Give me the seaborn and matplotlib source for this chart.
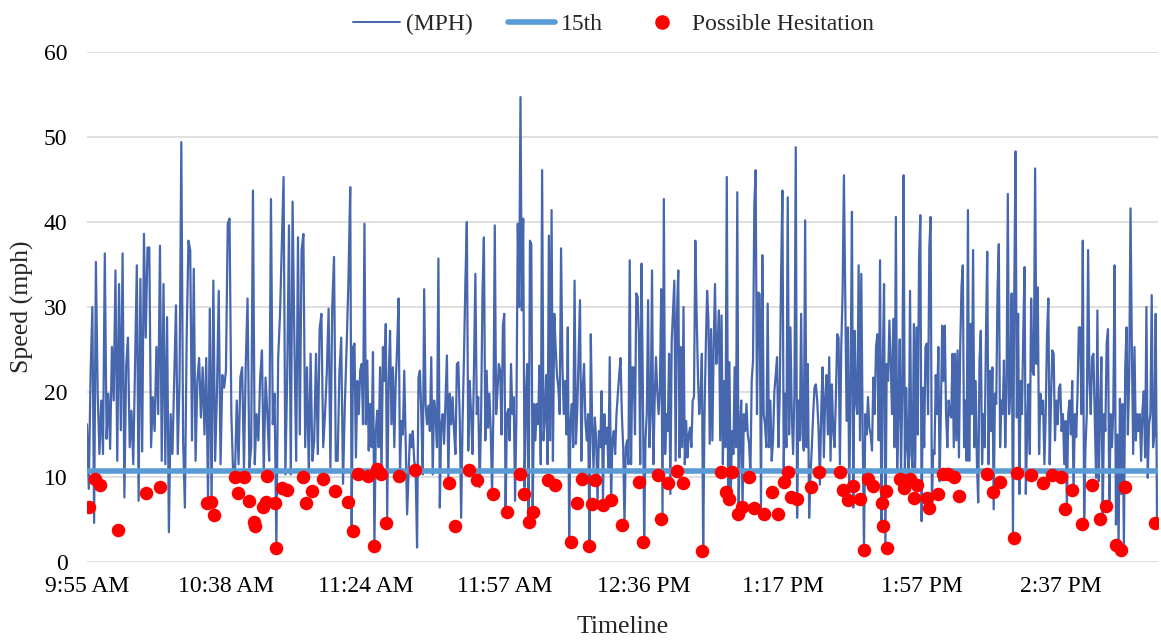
import numpy as np
import pandas as pd
import matplotlib
matplotlib.use("Agg")
import matplotlib.pyplot as plt
from matplotlib.lines import Line2D
import seaborn as sns

# Tick labels on the category axis (one label every fixed number of records)
time_labels = ["9:55 AM", "10:38 AM", "11:24 AM", "11:57 AM",
               "12:36 PM", "1:17 PM", "1:57 PM", "2:37 PM"]

# Speed readings (mph) in 8 consecutive windows
speed_w1 = [16.2, 8.6, 22, 30, 4.6, 35.3, 19.8, 12.7, 19, 12.7, 36.3, 14.5, 19.8, 13.3, 25.3, 19,
            34.3, 11.9, 32.7, 15.5, 36.3, 7.6, 23, 26.4, 13.5, 17.8, 11.5, 23.3, 34.9, 7.2, 33.3,
            13, 38.6, 26.4, 37, 37, 13.5, 19.4, 15.4, 25.3, 17.4, 37.2, 11.9, 32.7, 11.5, 28.8,
            3.5, 17.4, 12.7, 21.3, 30.2, 12.7, 21.3, 49.4, 14.3, 6.4, 26.4, 37.8, 36.7, 14.3,
            34.5, 11.9, 21.3, 24, 17, 22.9, 15, 24, 7.2, 29.8, 6.8, 33.1]
speed_w2 = [11.9, 19.8, 31.9, 11.5, 22, 20.5, 22.5, 39.8, 40.4, 17.4, 10.3, 10.3, 19, 11.5,
            21.7, 22.9, 11.1, 23.3, 31, 11.1, 13.5, 43.7, 11.5, 17.4, 14.3, 21.7, 24.9, 10.3,
            21.7, 17.4, 11.9, 42.7, 16.2, 19.8, 1.7, 24, 29, 37.4, 45.3, 10.3, 21.7, 39.6, 10.3,
            42.4, 26, 11.9, 38.2, 15, 36.7, 38.6, 13.5, 22.9, 10.3, 24.5, 11.9, 14.3, 24.5,
            12.7, 27.4, 29.2, 13.5, 17.4, 22.3, 29.8, 11.1, 30, 35.9, 11.9, 11.9, 22.3, 26.4,
            9.2, 18.4, 25.3, 33.1]
speed_w3 = [44.1, 3.7, 25.3, 25.7, 12.3, 21.3, 17.4, 22.5, 23.3, 16.2, 39.8, 16.2, 23.7, 13.1,
            18.6, 13.5, 24.7, 1.9, 15.4, 17.8, 13.5, 22.9, 10.3, 25.3, 21.3, 28, 5.2, 21.3, 27.2,
            16.2, 22.9, 13.5, 21.3, 25.3, 31, 10.7, 16.6, 15, 22.5, 13.9, 5.6, 10.3, 15, 13.5,
            15.4, 11.9, 10.7, 1.7, 21.7, 22.5, 17.4, 10.3, 32.1, 18.6, 16.2, 18.4, 15.4, 24.1,
            10.3, 19, 17.4, 13.5, 35.7, 6.4, 16.2, 17.4, 13.9, 19, 24.3, 9.9, 19.8, 16.2, 19.4,
            15.4, 12.7, 23.3, 23.5, 17, 5.2, 16.6, 24.1, 33.1, 40, 13.1, 21.3, 17.4, 12.7, 22.5,
            33.9, 17.4, 19.4, 8.8, 16.6, 31.6, 38.2]
speed_w4 = [14.3, 22.5, 15.8, 19.8, 15.4, 8, 18, 39.6, 17.4, 20.1, 23.3, 22.5, 15, 27.8, 29.2,
            6, 17.4, 18, 14.3, 23.3, 17.4, 19.4, 7.2, 17.4, 39.8, 30, 54.7, 29.6, 40.4, 8.8, 19.4,
            23.3, 4.4, 37.8, 37.4, 5.6, 18.6, 14.3, 18.6, 16.2, 23.1, 11.5, 46.1, 14.3, 17, 22,
            11.5, 38.4, 14.3, 41.4, 11.9, 29.2, 25.3, 22, 20.5, 17.4, 36.9, 23.3, 17.4, 21.3, 15,
            27.6, 2.5, 16.6, 18.6, 13.5, 33.1, 13.9, 18, 24.5, 30.8, 11.9, 20.5, 23.3, 16.6, 14.3,
            17.4, 2.1, 26.8, 16.2, 11.1, 17, 14.3, 6.8, 15.4, 13.5, 20.1, 7.2, 17.4, 13.9, 15.8,
            11.1, 24.1, 7.2, 14.3, 15.4, 12.7, 17.4, 19.8, 22]
speed_w5 = [24, 17.4, 13.5, 4.4, 13.5, 14.3, 11.5, 35.5, 11.5, 22.9, 22.9, 15, 31.6, 31.2, 26.8,
            11.5, 35.1, 20.5, 2.5, 14.3, 17.4, 30.8, 13.5, 17.4, 34.3, 11.5, 19, 24.1, 20.1, 17.4,
            20.5, 32.1, 5.2, 42.7, 12.7, 17.4, 15.4, 24.5, 8, 26, 29.6, 33.1, 11.9, 29.2, 34.3,
            12.3, 25.3, 13.5, 30, 11.5, 16.6, 12.3, 15, 15.8, 13.5, 19, 19.4, 37.8, 29.2, 22,
            17.4, 19.4, 24.5, 1.3, 17.4, 25.3, 31.9, 28.4, 13.9, 27.4, 14.3, 25.3, 32.7, 23.3,
            25.3, 29.6, 14.3, 29, 11.5, 21.3, 13.5, 45.3, 8.4, 23.5, 7.6, 15.4, 12.7, 22.9, 13.5,
            43.5, 5.6, 15.4, 19, 6.4, 17.4, 15.4, 18.6, 15, 13.9, 10.3, 21.3, 23.7, 42]
speed_w6 = [46.1, 17.4, 31.7, 31.5, 6.4, 36.1, 17.4, 16.2, 13.5, 30.4, 13.5, 19, 11.9, 14.3,
            20.1, 22, 24.1, 13.5, 19.8, 33.5, 43.7, 11.1, 19.8, 13.5, 42.9, 15, 27.6, 17.4, 12.7,
            19.8, 48.8, 5.2, 19, 14.3, 29.2, 15, 13.1, 40.2, 13.5, 23.3, 5.2, 10.3, 13.5, 17.4,
            20.5, 20.9, 19, 15.8, 9.1, 17.4, 22.9, 12.3, 19.4, 22, 15, 24.1, 11.9, 20.9, 15.4,
            13.5, 19.4, 26.8, 26.4, 11.5, 25.3, 31.6, 45.5, 31.6, 16.6, 27.6, 7.6, 21.3, 41.2,
            6.4, 27.2, 19, 17.4, 34.9, 14.3, 33.9, 15.4, 1.3, 17.4, 15, 19.4, 15.8, 15, 13.1,
            21.7, 17.4, 25.3, 26.8, 14.3, 35.5, 4.1, 22.9, 32.7, 1.7, 23.3, 21.3, 28.4]
speed_w7 = [23.3, 17.4, 28.6, 13.5, 40.6, 10.7, 18, 26.2, 10.7, 20.1, 45.5, 10.3, 20.5, 13.5,
            10.3, 31.9, 12.7, 11.1, 28, 11.1, 27.6, 15, 35.5, 40.8, 4.8, 20.5, 13.5, 25.3, 25.7,
            17.4, 37, 40.6, 6.4, 13.1, 12.7, 22, 17.4, 25.3, 9.5, 18, 27.8, 21.3, 27.8, 17.4,
            13.5, 19, 17.4, 17, 24.5, 13.5, 24.5, 14.3, 24.9, 12.3, 25.3, 32.3, 34.9, 13.5, 19,
            11.9, 41.4, 11.9, 28, 17.4, 36.7, 13.5, 21.3, 11.5, 7, 23.7, 27.2, 11.5, 17.4, 13.5,
            26.4, 36.5, 11.5, 22.5, 15.4, 22.9, 6.2, 19.8, 18.6, 31.9, 37.4, 13.5, 19, 17.4,
            23.7, 13.5, 20.1, 43.3, 17.4, 20.5, 31.6, 2.9, 31.6, 48.3, 17, 29.2, 8, 21.3, 17.4,
            26.8, 34.7]
speed_w8 = [8, 15.4, 20.9, 12.7, 31, 22.5, 22, 46.3, 23.3, 32.3, 12.7, 19.8, 17.4, 19, 11.5,
            17.4, 26.8, 31, 11.5, 19, 24.9, 24.5, 14.3, 19, 16.2, 20.5, 20.9, 15.4, 17.4, 11.5,
            16.6, 6.4, 17.4, 19, 15, 21.3, 8, 17.4, 14.7, 19.8, 27.6, 27.6, 17.4, 37.8, 4.4,
            13.5, 17.4, 36.7, 21.3, 17.4, 24.1, 24.5, 17.4, 9.9, 29.6, 9.5, 17.4, 24.1, 5.2,
            17.4, 15.4, 25.7, 27.4, 6.4, 17.4, 13.5, 17.8, 34.9, 4.4, 15, 2.1, 19.2, 8, 18.6,
            1.7, 22.9, 27.6, 15, 21.7, 41.6, 25.3, 12.7, 25.3, 14.3, 17.4, 15.4, 17.4, 11.9,
            17.8, 20.1, 12.3, 30, 9.9, 16.2, 17.4, 31.4, 13.5, 15, 29.2, 4.8]
windows = [speed_w1, speed_w2, speed_w3, speed_w4, speed_w5, speed_w6, speed_w7, speed_w8]
# where each window starts/ends on the timeline, in label intervals
window_edges = [0, 0.921, 1.892, 2.863, 3.835, 4.806, 5.777, 6.748, 7.691]

# 15th percentile speed
p15 = 10.7

# Possible hesitation points: position (label intervals) and speed (mph)
hes_t = [0.014, 0.058, 0.093, 0.225, 0.424, 0.525, 0.861, 0.891, 0.915, 1.064, 1.083, 1.131,
         1.167, 1.201, 1.206, 1.267, 1.287, 1.292, 1.354, 1.357, 1.400, 1.436, 1.555, 1.572,
         1.615, 1.699, 1.783, 1.878, 1.914, 1.950, 2.022, 2.063, 2.083, 2.111, 2.147, 2.241,
         2.358, 2.602, 2.648, 2.748, 2.806, 2.921, 3.022, 3.111, 3.144, 3.175, 3.206, 3.316,
         3.364, 3.477, 3.520, 3.556, 3.609, 3.633, 3.654, 3.712, 3.765, 3.848, 3.968, 3.995,
         4.103, 4.124, 4.179, 4.244, 4.285, 4.423, 4.558, 4.594, 4.618, 4.635, 4.680, 4.711,
         4.759, 4.793, 4.869, 4.927, 4.970, 5.013, 5.042, 5.061, 5.106, 5.203, 5.262, 5.413,
         5.437, 5.469, 5.505, 5.559, 5.588, 5.612, 5.646, 5.713, 5.718, 5.742, 5.749, 5.845,
         5.873, 5.917, 5.945, 5.965, 6.037, 6.055, 6.120, 6.152, 6.192, 6.235, 6.267, 6.472,
         6.515, 6.559, 6.664, 6.688, 6.784, 6.868, 6.935, 7.002, 7.026, 7.083, 7.153, 7.225,
         7.282, 7.326, 7.395, 7.431, 7.462, 7.678]
hes_mph = [6.5, 9.8, 9.1, 3.8, 8.1, 8.8, 7.0, 7.1, 5.5, 10.0, 8.1, 10.0, 7.2, 4.7, 4.2, 6.5,
           7.1, 10.1, 6.9, 1.6, 8.7, 8.5, 10.0, 6.9, 8.3, 9.8, 8.3, 7.1, 3.6, 10.3, 10.1, 1.9,
           10.9, 10.3, 4.6, 10.1, 10.8, 9.3, 4.2, 10.8, 9.7, 8.0, 5.9, 10.4, 8.0, 4.7, 5.9, 9.6,
           9.1, 2.3, 6.9, 9.8, 1.9, 6.8, 9.6, 6.7, 7.3, 4.4, 9.4, 2.4, 10.2, 5.1, 9.3, 10.7, 9.3,
           1.3, 10.6, 8.2, 7.4, 10.6, 5.6, 6.5, 10.0, 6.4, 5.6, 8.2, 5.6, 9.4, 10.6, 7.6, 7.4,
           8.8, 10.6, 10.6, 8.5, 7.3, 8.9, 7.4, 1.4, 9.8, 9.0, 6.9, 4.2, 8.3, 1.7, 9.8, 8.7, 9.8,
           7.5, 9.1, 7.5, 6.3, 8.0, 10.4, 10.4, 10.0, 7.8, 10.3, 8.2, 9.4, 2.8, 10.5, 10.2, 9.3,
           10.2, 10.0, 6.2, 8.5, 4.5, 9.1, 5.1, 6.6, 2.0, 1.4, 8.8, 4.6]

# assemble the speed record on the timeline
t_parts = []
for i, w in enumerate(windows):
    last = i == len(windows) - 1
    t_parts.append(np.linspace(window_edges[i], window_edges[i + 1], len(w), endpoint=last))
speed = pd.DataFrame({"t": np.concatenate(t_parts), "mph": np.concatenate(windows)})
hes = pd.DataFrame({"t": hes_t, "mph": hes_mph})

sns.set_theme(style="white")
plt.rcParams["font.family"] = ["Liberation Serif", "DejaVu Serif"]

line_col = "#4666AD"
p15_col = "#5B9BD5"
dot_col = "#FF0000"

fig = plt.figure(figsize=(11.61, 6.43), dpi=100)
ax = fig.add_axes([87 / 1161, 1 - 562 / 643, 1071 / 1161, 510 / 643])

sns.lineplot(data=speed, x="t", y="mph", ax=ax, color=line_col, lw=1.6,
             sort=False, legend=False, zorder=2)
ax.axhline(p15, color=p15_col, lw=4, zorder=3)
sns.scatterplot(data=hes, x="t", y="mph", ax=ax, color=dot_col, s=95,
                linewidth=0, legend=False, zorder=4)

ax.set_ylim(0, 60)
ax.set_yticks(range(0, 61, 10))
ax.set_xlim(0, window_edges[-1] + 0.007)
ax.set_xticks(range(len(time_labels)))
ax.set_xticklabels(time_labels)
ax.grid(axis="y", color="#D9D9D9", lw=1.2, zorder=0)
ax.set_axisbelow(True)
for s in ax.spines.values():
    s.set_visible(False)
ax.tick_params(axis="both", length=0, labelsize=17, colors="#000000")
ax.tick_params(axis="y", pad=14)
ax.tick_params(axis="x", pad=10)
ax.set_xlabel("Timeline", fontsize=18.5, labelpad=14)
ax.set_ylabel("Speed (mph)", fontsize=18.5, labelpad=7)

handles = [Line2D([], [], color=line_col, lw=1.4),
           Line2D([], [], color=p15_col, lw=4),
           Line2D([], [], color=dot_col, marker="o", ls="", markersize=9.5)]
fig.legend(handles, ["(MPH)", "15th", "Possible Hesitation"], loc="upper center",
           bbox_to_anchor=(0.528, 1.012), ncol=3, frameon=False, fontsize=17,
           handlelength=2.0, columnspacing=1.5, handletextpad=0.25)

fig.savefig("out.png", dpi=100)
